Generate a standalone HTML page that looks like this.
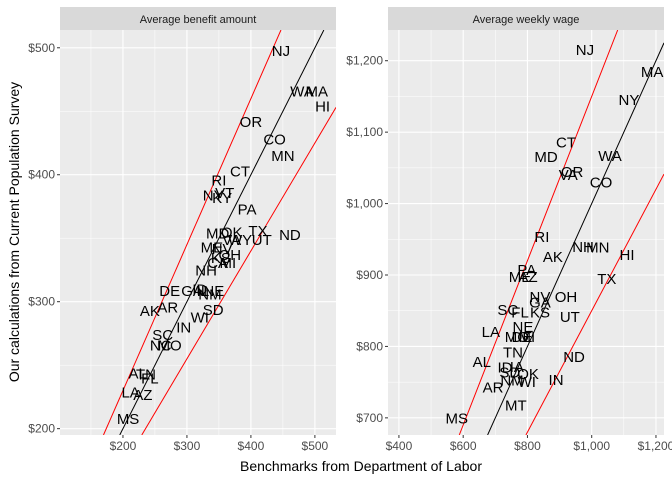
<!DOCTYPE html>
<html><head><meta charset="utf-8"><style>
html,body{margin:0;padding:0;background:#fff;overflow:hidden;}
svg{display:block;}
svg text{font-family:"Liberation Sans",Arial,sans-serif;}
</style></head><body>
<svg id="c" width="672" height="480" xmlns="http://www.w3.org/2000/svg">
<defs>
<clipPath id="clipL"><rect x="60" y="30" width="276" height="405"/></clipPath>
<clipPath id="clipR"><rect x="388" y="30" width="276" height="405"/></clipPath>
</defs>
<text x="361" y="471" font-size="14" text-anchor="middle" fill="#000">Benchmarks from Department of Labor</text>
<text transform="translate(19,232) rotate(-90)" font-size="14" text-anchor="middle" fill="#000">Our calculations from Current Population Survey</text>
</svg>
<script>
// Left panel: Average benefit amount
const leftStates=["NJ","WA","MA","HI","OR","CO","MN","CT","RI","NY","VT","KY","PA","MD","OK","TX","ND","UT","WY","VA","ME","NV","OH","KS","CA","MI","NH","DE","GA","ID","IL","NE","NM","AK","AR","SD","WI","IN","SC","NC","MO","AL","TN","FL","LA","AZ","MS"];
const leftDol=[447,480,503,512,400,437,450,383,350,341,359,355,394,348,370,411,461,417,383,370,339,355,367,353,348,364,330,273,308,320,325,342,336,242,270,341,320,295,262,259,273,223,236,242,212,231,208];
const leftCps=[498,466,466,454,442,428,415,403,396,384,386,382,373,354,355,356,353,349,349,349,343,342,337,335,331,331,325,309,309,310,309,309,306,293,296,294,288,280,274,266,266,244,243,240,229,227,208];
const leftXTicks=[200,300,400,500];
const leftXLabels=["$200","$300","$400","$500"];
const leftYTicks=[200,300,400,500];
const leftYLabels=["$200","$300","$400","$500"];
// Right panel: Average weekly wage
const rightStates=["NJ","MA","NY","CT","MD","WA","OR","VA","CO","RI","NH","MN","HI","AK","TX","PA","ME","AZ","NV","OH","GA","SC","FL","KS","UT","LA","NE","MO","DE","MI","TN","ND","AL","ID","IA","SD","OK","NM","WI","IN","AR","MT","MS"];
const rightDol=[979,1188,1116,920,858,1057,939,927,1029,845,973,1019,1110,879,1047,798,777,802,839,920,839,739,777,839,932,686,786,767,783,798,755,945,658,730,767,745,802,752,798,889,693,764,580];
const rightCps=[1216,1185,1146,1086,1066,1067,1045,1041,1030,954,940,939,929,926,895,908,898,898,870,870,862,852,848,848,842,821,828,814,814,814,792,786,779,771,772,764,762,753,751,754,743,718,700];
const rightXTicks=[400,600,800,1000,1200];
const rightXLabels=["$400","$600","$800","$1,000","$1,200"];
const rightYTicks=[700,800,900,1000,1100,1200];
const rightYLabels=["$700","$800","$900","$1,000","$1,100","$1,200"];
const bandRatio=[0.85,1.15];

const NS="http://www.w3.org/2000/svg";
const svg=document.getElementById('c');
function mk(tag,attrs,parent){const e=document.createElementNS(NS,tag);for(const k in attrs)e.setAttribute(k,attrs[k]);(parent||svg).appendChild(e);return e;}

function panel(p){
  const g=mk('g',{});
  
  
  const sx=v=>p.x0+(v-p.xmin)/(p.xmax-p.xmin)*p.w;
  const sy=v=>p.y0+p.h-(v-p.ymin)/(p.ymax-p.ymin)*p.h;
  const st=mk('rect',{x:p.x0,y:7,width:p.w,height:23,fill:'#d9d9d9'},g);
  
  
  const stt=mk('text',{x:p.x0+p.w/2,y:23,'font-size':11,'text-anchor':'middle',fill:'#1a1a1a'},g);
  stt.textContent=p.title;
  
  
  const bg=mk('rect',{x:p.x0,y:p.y0,width:p.w,height:p.h,fill:'#ebebeb'},g);
  
  
  const xs=p.xt, ys=p.yt;
  const dx=xs[1]-xs[0], dy=ys[1]-ys[0];
  for(let v=xs[0]-dx/2; v<=p.xmax; v+=dx/2){ if(v<p.xmin) continue;
    const l=mk('line',{x1:sx(v),x2:sx(v),y1:p.y0,y2:p.y0+p.h,stroke:'#fff','stroke-width':(xs.includes(v)?1.1:0.5)},g);
    
    }
  for(let v=ys[0]-dy/2; v<=p.ymax; v+=dy/2){ if(v<p.ymin) continue;
    const l=mk('line',{x1:p.x0,x2:p.x0+p.w,y1:sy(v),y2:sy(v),stroke:'#fff','stroke-width':(ys.includes(v)?1.1:0.5)},g);
    
    }
  xs.forEach((v,i)=>{
    mk('line',{x1:sx(v),x2:sx(v),y1:p.y0+p.h,y2:p.y0+p.h+3,stroke:'#333'},g);
    const t=mk('text',{x:sx(v),y:p.y0+p.h+15,'font-size':12,'text-anchor':'middle',fill:'#4d4d4d'},g);
    t.textContent=p.xl[i];
    
    });
  ys.forEach((v,i)=>{
    mk('line',{x1:p.x0-3,x2:p.x0,y1:sy(v),y2:sy(v),stroke:'#333'},g);
    const t=mk('text',{x:p.x0-5,y:sy(v)+4,'font-size':12,'text-anchor':'end',fill:'#4d4d4d'},g);
    t.textContent=p.yl[i];
    
    });
  const cg=mk('g',{'clip-path':'url(#'+p.clip+')'},g);
  function ratioLine(r,color,name){
    const a=Math.max(p.xmin,p.ymin/r), b=Math.min(p.xmax,p.ymax/r);
    const l=mk('line',{x1:sx(a),y1:sy(a*r),x2:sx(b),y2:sy(b*r),stroke:color,'stroke-width':1},cg);
    
    
  }
  ratioLine(1,'#000','identity-line');
  bandRatio.forEach(r=>ratioLine(r,'#ff0000','band-line'));
  p.s.forEach((s,i)=>{
    const t=mk('text',{x:sx(p.dx[i]),y:sy(p.dy[i])+5.5,'font-size':15,'text-anchor':'middle',fill:'#000'},cg);
    t.textContent=s;
    
    });
}
panel({name:'benefit-panel',title:'Average benefit amount',x0:60,y0:30,w:276,h:405,xmin:101.6,xmax:533,ymin:195,ymax:514,clip:'clipL',
  xt:leftXTicks,xl:leftXLabels,yt:leftYTicks,yl:leftYLabels,s:leftStates,dx:leftDol,dy:leftCps});
panel({name:'wage-panel',title:'Average weekly wage',x0:388,y0:30,w:276,h:405,xmin:366,xmax:1225,ymin:676,ymax:1243,clip:'clipR',
  xt:rightXTicks,xl:rightXLabels,yt:rightYTicks,yl:rightYLabels,s:rightStates,dx:rightDol,dy:rightCps});
</script>
</body></html>
